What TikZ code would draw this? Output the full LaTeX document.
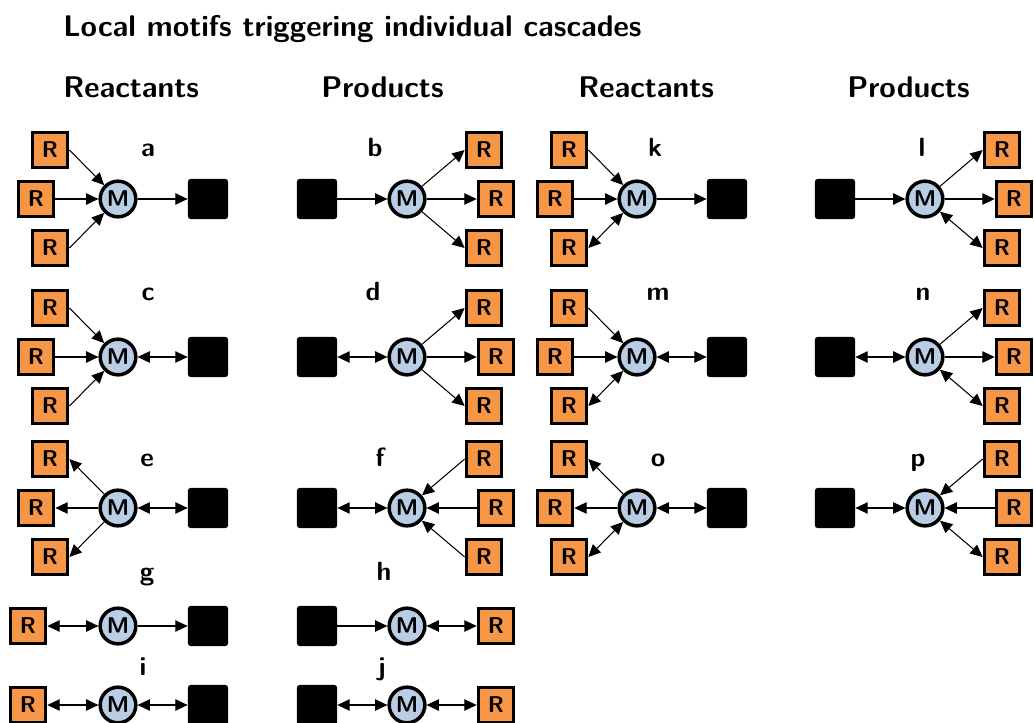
\documentclass[tikz,border=0pt]{standalone}
\usetikzlibrary{arrows.meta}

\definecolor{rfill}{HTML}{F79646}
\definecolor{mfill}{HTML}{B9CDE5}

\tikzstyle{species} = [rectangle,draw=black,fill=rfill,line width=2pt,minimum size=20pt,inner sep=0pt,font=\sffamily\bfseries\fontsize{13}{15}\selectfont]
\tikzstyle{hub} = [circle,draw=black,fill=mfill,line width=2pt,minimum size=20.3pt,inner sep=0pt,font=\sffamily\bfseries\fontsize{13}{15}\selectfont]
\tikzstyle{blackbox} = [rectangle,fill=black,rounded corners=1.5pt,minimum size=22.8pt,inner sep=0pt]
\tikzstyle{edge} = [draw,line width=0.6pt]
\tikzstyle{fwd} = [-{Triangle[length=7pt,width=6.5pt]}]
\tikzstyle{bwd} = [{Triangle[length=7pt,width=6.5pt]}-]
\tikzstyle{bidir} = [{Triangle[length=7pt,width=6.5pt]}-{Triangle[length=7pt,width=6.5pt]}]
\tikzstyle{tag} = [anchor=base,inner sep=0pt,font=\sffamily\bfseries\fontsize{15}{18}\selectfont]
\tikzstyle{heading} = [anchor=base west,inner sep=0pt,font=\sffamily\bfseries\fontsize{17}{20}\selectfont]

\begin{document}
\begin{tikzpicture}[x=0.02cm,y=-0.02cm]
\useasboundingbox (0,0) rectangle (1034,723);

\node[heading] (title) at (63,37) {Local motifs triggering individual cascades};
\foreach \h/\hx/\txt in {1/63/Reactants, 2/321/Products, 3/578/Reactants, 4/847/Products}{
  \node[heading] (head\h) at (\hx,97) {\txt};
}

% motifs with three R nodes
\foreach \p/\x/\y/\s/\lx/\ly/\tu/\tc/\td/\tb in {
    a/118/199/0/148/156/1/1/1/0, b/407/199/1/375/156/0/0/0/1,
    c/118/357/0/148/300/1/1/1/2, d/407/357/1/373/300/0/0/0/2,
    e/118/508/0/147/466/0/0/0/2, f/407/508/1/380/466/1/1/1/2,
    k/637/199/0/655/156/1/1/2/0, l/925/199/1/922/156/0/0/2/1,
    m/637/357/0/658/300/1/1/2/2, n/925/357/1/923/300/0/0/2/2,
    o/637/508/0/658/466/0/0/2/2, p/925/508/1/918/466/1/1/2/2}{
  \node[hub] (M\p) at (\x,\y) {M};
  \ifnum\s=0
    \node[species] (U\p) at (\x-68,\y-49) {R};
    \node[species] (C\p) at (\x-82,\y) {R};
    \node[species] (D\p) at (\x-68,\y+49) {R};
    \node[blackbox] (B\p) at (\x+90,\y) {};
    \def\side{east}
  \else
    \node[species] (U\p) at (\x+77,\y-49) {R};
    \node[species] (C\p) at (\x+89,\y) {R};
    \node[species] (D\p) at (\x+77,\y+49) {R};
    \node[blackbox] (B\p) at (\x-90,\y) {};
    \def\side{west}
  \fi
  \node[tag] (L\p) at (\lx,\ly) {\p};
  \foreach \r/\kind in {U/\tu, C/\tc, D/\td}{
    \ifcase\kind\relax
      \path[edge,fwd] (M\p) -- (\r\p.\side);
    \or
      \path[edge,bwd] (M\p) -- (\r\p.\side);
    \or
      \path[edge,bidir] (M\p) -- (\r\p.\side);
    \fi
  }
  \ifcase\tb\relax
    \path[edge,fwd] (M\p) -- (B\p);
  \or
    \path[edge,bwd] (M\p) -- (B\p);
  \or
    \path[edge,bidir] (M\p) -- (B\p);
  \fi
}

% motifs with one R node
\foreach \p/\x/\y/\s/\lx/\ly/\tr/\tb in {
    g/118/626/0/147/580/2/0, h/407/626/1/384/580/2/1,
    i/118/705/0/143/675/2/2, j/407/705/1/382/675/2/2}{
  \node[hub] (M\p) at (\x,\y) {M};
  \ifnum\s=0
    \node[species] (C\p) at (\x-90,\y) {R};
    \node[blackbox] (B\p) at (\x+90,\y) {};
  \else
    \node[species] (C\p) at (\x+89,\y) {R};
    \node[blackbox] (B\p) at (\x-90,\y) {};
  \fi
  \node[tag] (L\p) at (\lx,\ly) {\p};
  \foreach \r/\kind in {C/\tr, B/\tb}{
    \ifcase\kind\relax
      \path[edge,fwd] (M\p) -- (\r\p);
    \or
      \path[edge,bwd] (M\p) -- (\r\p);
    \or
      \path[edge,bidir] (M\p) -- (\r\p);
    \fi
  }
}
\end{tikzpicture}
\end{document}
